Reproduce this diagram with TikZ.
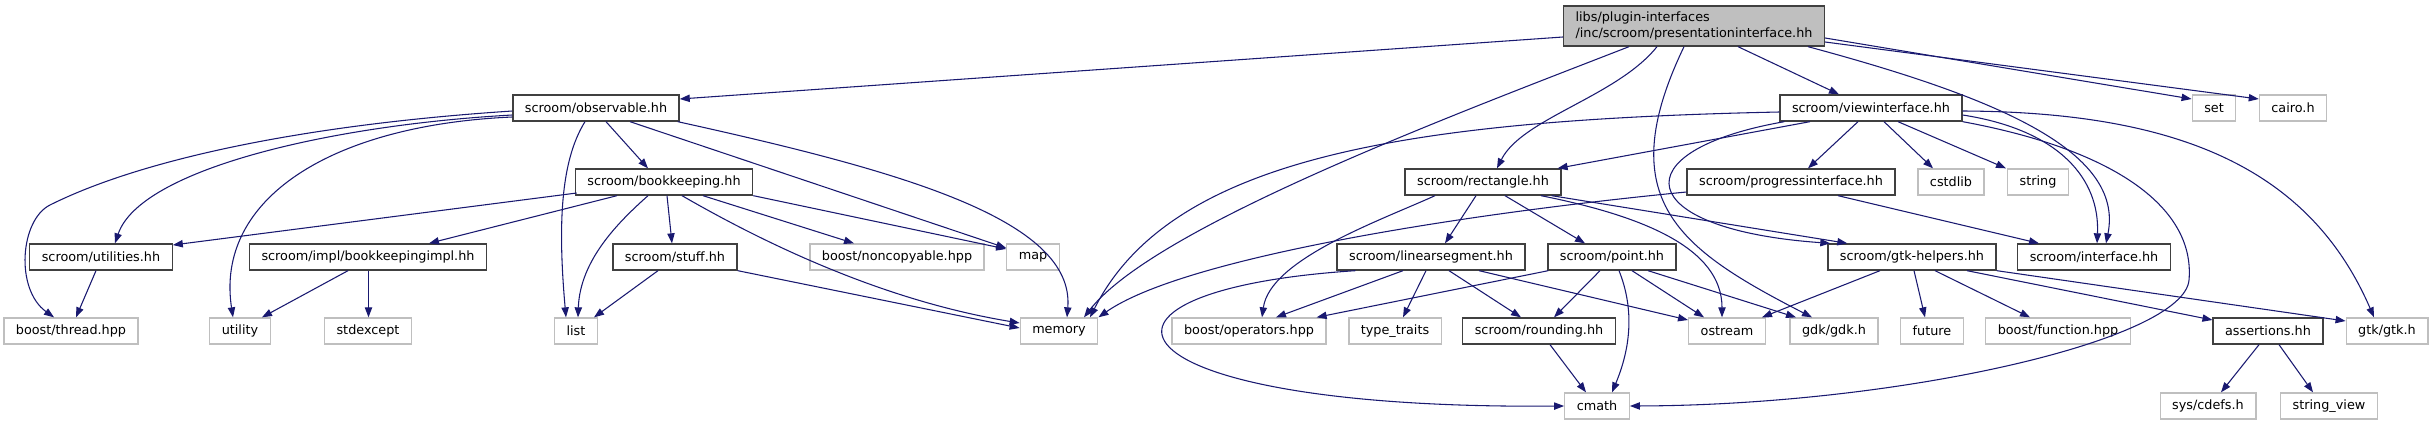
\documentclass[tikz,border=0pt]{standalone}
\usepackage{fontspec}
\setmainfont{DejaVu Sans}
\usetikzlibrary{arrows.meta,calc}
\definecolor{edgeblue}{HTML}{191970}
\definecolor{docline}{HTML}{404040}
\definecolor{extline}{HTML}{BFBFBF}

\begin{document}
\begin{tikzpicture}[
  x=0.75pt, y=-0.75pt,
  every node/.style={font=\fontsize{9.6}{12}\selectfont, inner xsep=9pt, minimum height=19.5pt},
  docbox/.style={draw=docline, fill=white, line width=1pt},
  extbox/.style={draw=extline, fill=white, line width=1pt},
  mainbox/.style={draw=docline, fill=extline, line width=1pt, align=left, minimum height=30pt},
  dep/.style={draw=edgeblue, line width=0.8pt, -{Triangle[length=7.5pt,width=5.5pt]}}
]

\useasboundingbox (0,0) rectangle (2433,425);

% The header itself
\node[mainbox] (main) at (1694,26) {libs/plugin-interfaces\\/inc/scroom/presentationinterface.hh};

% Documented headers
\foreach \name/\x/\y/\txt in {observable/596/108/{scroom/observable.hh}, viewif/1871/108/{scroom/viewinterface.hh},
    bookkeeping/664/182/{scroom/bookkeeping.hh}, rectangle/1483/182/{scroom/rectangle.hh},
    progressif/1791/182/{scroom/progressinterface.hh}, utilities/101/257/{scroom/utilities.hh},
    bkimpl/368/257/{scroom/impl/bookkeepingimpl.hh}, stuff/675/257/{scroom/stuff.hh},
    linseg/1431/257/{scroom/linearsegment.hh}, point/1612/257/{scroom/point.hh},
    gtkhelpers/1912/257/{scroom/gtk-helpers.hh}, interface/2094/257/{scroom/interface.hh},
    rounding/1539/331/{scroom/rounding.hh}, assertions/2268/331/{assertions.hh}} {
  \node[docbox] (\name) at (\x,\y) {\txt};
}

% System and library headers
\foreach \name/\x/\y/\txt in {set/2214/108/{set}, cairo/2293/108/{cairo.h}, cstdlib/1951/182/{cstdlib},
    string/2038/182/{string}, noncopyable/897/257/{boost/noncopyable.hpp}, map/1033/257/{map},
    thread/71/331/{boost/thread.hpp}, utility/240/331/{utility}, stdexcept/368/331/{stdexcept},
    list/576/331/{list}, memory/1059/331/{memory}, operators/1249/331/{boost/operators.hpp},
    typetraits/1395/331/{type\_traits}, ostream/1727/331/{ostream}, gdk/1834/331/{gdk/gdk.h},
    future/1932/331/{future}, function/2058/331/{boost/function.hpp}, gtk/2387/331/{gtk/gtk.h},
    cmath/1597/406/{cmath}, cdefs/2208/406/{sys/cdefs.h}, stringview/2329/406/{string\_view}} {
  \node[extbox] (\name) at (\x,\y) {\txt};
}

% From the header
\draw[dep] ($(main.west)+(0,11)$) -- ($(observable.east)+(0,-9)$);
\draw[dep] ($(main.south)+(-65,0)$) .. controls +(-180,70) and +(70,-90) .. ($(memory.north)+(25,0)$);
\draw[dep] ($(main.south)+(-37,0)$) .. controls +(-40,50) and +(25,-50) .. ($(rectangle.north)+(14,0)$);
\draw[dep] ($(main.south)+(-10,0)$) .. controls +(-74,154) and +(-132,-68) .. ($(gdk.north)+(-22,0)$);
\draw[dep] ($(main.south)+(44,0)$) -- ($(viewif.north)+(-32,0)$);
\draw[dep] ($(main.south)+(114,0)$) .. controls +(182,49) and +(19,-94) .. ($(interface.north)+(12,0)$);
\draw[dep] ($(main.east)+(0,12)$) -- ($(set.west)+(0,-9)$);
\draw[dep] ($(main.east)+(0,16)$) -- ($(cairo.west)+(0,-9)$);

% observable.hh
\draw[dep] ($(observable.west)+(0,3)$) .. controls +(-212,14) and +(90,-45) .. (50,205)
  .. controls +(-30,15) and +(-39,-28) .. ($(thread.north)+(-17,0)$);
\draw[dep] ($(observable.west)+(0,7)$) .. controls +(-182,10) and +(25,-74) .. ($(utilities.north)+(14,0)$);
\draw[dep] ($(observable.west)+(0,9)$) .. controls +(-182,8) and +(-18,-118) .. ($(utility.north)+(-7,0)$);
\draw[dep] ($(observable.south)+(-11,0)$) .. controls +(-25,40) and +(-8,-90) .. ($(list.north)+(-10,0)$);
\draw[dep] ($(observable.south)+(10,0)$) -- ($(bookkeeping.north)+(-16,0)$);
\draw[dep] ($(observable.south)+(34,0)$) -- ($(map.west)+(0,-9)$);
\draw[dep] ($(observable.south east)+(-2,0)$) .. controls +(222,49) and +(8,-98) .. ($(memory.north)+(8,0)$);

% bookkeeping.hh
\draw[dep] ($(bookkeeping.west)+(2,11)$) -- ($(utilities.east)+(0,-12)$);
\draw[dep] ($(bookkeeping.south)+(-47,0)$) -- ($(bkimpl.north)+(61,0)$);
\draw[dep] ($(bookkeeping.south)+(-16,0)$) .. controls +(-28,25) and +(2,-58) .. ($(list.north)+(2,0)$);
\draw[dep] ($(bookkeeping.south)+(3,0)$) -- ($(stuff.north)+(-3,0)$);
\draw[dep] ($(bookkeeping.south)+(18,0)$) .. controls +(78,45) and +(-140,-23) .. ($(memory.west)+(0,-8)$);
\draw[dep] ($(bookkeeping.south)+(39,0)$) -- ($(noncopyable.north)+(-43,0)$);
\draw[dep] (bookkeeping.south east) -- ($(map.west)+(0,-8)$);

% stuff.hh, bookkeepingimpl.hh, utilities.hh
\draw[dep] ($(stuff.south)+(-17,0)$) -- ($(list.north)+(18,0)$);
\draw[dep] (stuff.south east) -- ($(memory.west)+(0,-3)$);
\draw[dep] ($(bkimpl.south)+(-20,0)$) -- ($(utility.north)+(22,0)$);
\draw[dep] ($(bkimpl.south)+(0.5,0)$) -- ($(stdexcept.north)+(0.5,0)$);
\draw[dep] ($(utilities.south)+(-5,0)$) -- ($(thread.north)+(5,0)$);

% viewinterface.hh
\draw[dep] ($(viewif.west)+(0,4)$) .. controls +(-380,8) and +(80,-158) .. ($(memory.north)+(31,0)$);
\draw[dep] ($(viewif.south)+(-61,0)$) -- ($(rectangle.north east)+(-4,0)$);
\draw[dep] ($(viewif.south west)+(5,0)$) .. controls +(-165,29) and +(-199,-14) .. ($(gtkhelpers.north west)+(3,0)$);
\draw[dep] ($(viewif.south)+(-13,0)$) -- ($(progressif.north)+(17,0)$);
\draw[dep] ($(viewif.south)+(13,0)$) -- ($(cstdlib.north)+(-18,0)$);
\draw[dep] ($(viewif.south)+(27,0)$) -- ($(string.north)+(-32,0)$);
\draw[dep] ($(viewif.east)+(0,7)$) .. controls +(97,15) and +(3,-64) .. ($(interface.north)+(3,0)$);
\draw[dep] (viewif.south east) .. controls +(157,29) and +(6,-70) .. (2189,280)
  .. controls +(-5,60) and +(271,-1) .. (cmath.east);
\draw[dep] ($(viewif.east)+(0,3)$) .. controls +(217,1) and +(-64,-148) .. ($(gtk.north)+(-13,0)$);

% rectangle.hh
\draw[dep] ($(rectangle.south)+(-48,0)$) .. controls +(-55,25) and +(8,-58) .. ($(operators.north)+(13,0)$);
\draw[dep] ($(rectangle.south)+(-7,0)$) -- ($(linseg.north)+(14,0)$);
\draw[dep] ($(rectangle.south)+(22,0)$) -- ($(point.north)+(-27,0)$);
\draw[dep] ($(rectangle.south)+(58,0)$) .. controls +(100,20) and +(0,-70) .. ($(ostream.north)+(-5,0)$);
\draw[dep] ($(rectangle.south east)+(-10,0)$) -- ($(gtkhelpers.north west)+(20,0)$);

% linearsegment.hh
\draw[dep] ($(linseg.south west)+(19,0)$) .. controls +(-307,20) and +(-464,4) .. (cmath.west);
\draw[dep] ($(linseg.south)+(-28,0)$) -- ($(operators.north)+(27,0)$);
\draw[dep] ($(linseg.south)+(-5,0)$) -- ($(typetraits.north)+(8,0)$);
\draw[dep] ($(linseg.south)+(18,0)$) -- ($(rounding.north)+(-18,0)$);
\draw[dep] ($(linseg.south)+(48,0)$) -- ($(ostream.west)+(0,-11)$);

% point.hh, rounding.hh
\draw[dep] ($(point.south west)+(1,0)$) -- ($(operators.north east)+(-10,0)$);
\draw[dep] ($(point.south)+(-12,0)$) -- ($(rounding.north)+(15,0)$);
\draw[dep] ($(point.south)+(7,0)$) .. controls +(16,40) and +(18,-43) .. ($(cmath.north)+(15,0)$);
\draw[dep] ($(point.south)+(20,0)$) -- ($(ostream.north)+(-23,0)$);
\draw[dep] ($(point.south)+(36,0)$) -- ($(gdk.north)+(-38,0)$);
\draw[dep] ($(rounding.south)+(11,0)$) -- ($(cmath.north)+(-11,0)$);

% progressinterface.hh
\draw[dep] ($(progressif.west)+(0,10)$) .. controls +(-237,23) and +(83,-58) .. (memory.north east);
\draw[dep] ($(progressif.south)+(47,0)$) -- ($(interface.north)+(-55,0)$);

% gtk-helpers.hh
\draw[dep] ($(gtkhelpers.south)+(-32,0)$) -- ($(ostream.north)+(35,0)$);
\draw[dep] ($(gtkhelpers.south)+(2,0)$) -- ($(future.north)+(-7,0)$);
\draw[dep] ($(gtkhelpers.south)+(23,0)$) -- ($(function.north)+(-28,0)$);
\draw[dep] ($(gtkhelpers.south)+(55,0)$) -- ($(assertions.west)+(0,-11)$);
\draw[dep] (gtkhelpers.south east) -- ($(gtk.west)+(0,-10)$);

% assertions.hh
\draw[dep] ($(assertions.south)+(-9,0)$) -- ($(cdefs.north)+(13,0)$);
\draw[dep] ($(assertions.south)+(11,0)$) -- ($(stringview.north)+(-16,0)$);

\end{tikzpicture}
\end{document}
